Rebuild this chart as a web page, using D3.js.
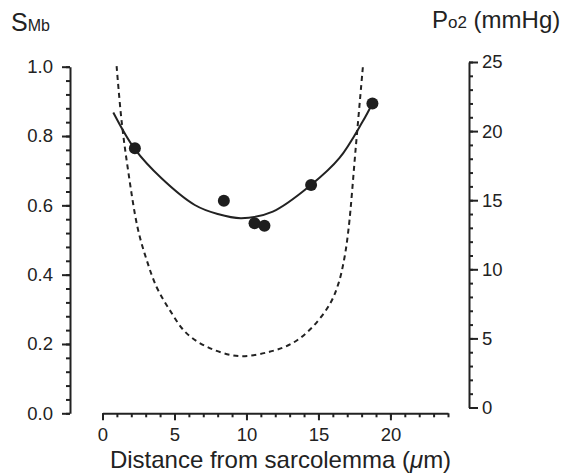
<!DOCTYPE html>
<html>
<head>
<meta charset="utf-8">
<script src="https://cdn.jsdelivr.net/npm/d3@7"></script>
<style>
  html, body { margin: 0; padding: 0; background: #ffffff; }
  svg { display: block; }
  text { font-family: "Liberation Sans", Arial, Helvetica, sans-serif; fill: #222; }
</style>
</head>
<body>
<script>
// ---- data ----
const xTickValues = [0, 5, 10, 15, 20];
const leftTickValues = [0.0, 0.2, 0.4, 0.6, 0.8, 1.0];
const rightTickValues = [0, 5, 10, 15, 20, 25];

// measured points: S_Mb vs distance
const dotX = [2.25, 8.43, 10.56, 11.25, 14.49, 18.75];
const dotS = [0.765, 0.613, 0.548, 0.541, 0.659, 0.894];

// fitted solid curve (S_Mb)
const fitX = [0.75, 2.25, 4.10, 6.41, 8.0, 9.64, 11.83, 14.49, 16.45, 18.06, 18.75];
const fitS = [0.868, 0.762, 0.678, 0.601, 0.575, 0.563, 0.582, 0.659, 0.736, 0.841, 0.894];

// dashed curve (Po2, mmHg)
const po2X = [0.98, 1.33, 1.79, 2.44, 3.06, 3.75, 4.67, 5.83, 7.44, 9.52, 11.6, 13.2, 14.6, 15.8, 16.4, 16.8, 17.1, 17.6, 18.1];
const po2Y = [24.7, 20.7, 17.07, 13.0, 10.7, 8.74, 7.05, 5.38, 4.30, 3.72, 4.03, 4.66, 5.84, 7.5, 9.0, 10.8, 13.0, 18.9, 24.8];

// ---- layout ----
const W = 579, H = 474;
const ink = "#222";
const svg = d3.select("body").append("svg").attr("width", W).attr("height", H);

const x = d3.scaleLinear().domain([0, 24]).range([102.5, 448]);
const yL = d3.scaleLinear().domain([0, 1]).range([413.3, 66.7]);
const yR = d3.scaleLinear().domain([0, 25]).range([407.5, 62]);

function styleAxis(g) {
  g.selectAll("path.domain").attr("stroke", ink).attr("stroke-width", 2);
  g.selectAll(".tick line").attr("stroke", ink).attr("stroke-width", 2);
  g.selectAll(".tick text").attr("fill", ink)
    .style("font-family", "'Liberation Sans', Arial, Helvetica, sans-serif")
    .style("font-size", "18.5px");
}

// left axis
const leftMinor = d3.range(0, 1.0001, 0.04);
svg.append("g").attr("transform", "translate(70,0)")
  .call(d3.axisLeft(yL).tickValues(leftMinor).tickSize(4).tickFormat(""))
  .call(g => { styleAxis(g); g.select(".domain").remove(); });
svg.append("g").attr("transform", "translate(70,0)")
  .call(d3.axisLeft(yL).tickValues(leftTickValues).tickSize(8).tickSizeOuter(0).tickPadding(9).tickFormat(d3.format(".1f")))
  .call(styleAxis);

// bottom axis
const xMinor = d3.range(0, 24.001, 1);
svg.append("g").attr("transform", "translate(0,413.3)")
  .call(d3.axisBottom(x).tickValues(xMinor).tickSize(4).tickFormat(""))
  .call(g => { styleAxis(g); g.select(".domain").remove(); });
svg.append("g").attr("transform", "translate(0,413.3)")
  .call(d3.axisBottom(x).tickValues(xTickValues).tickSize(7).tickSizeOuter(0).tickPadding(8).tickFormat(d3.format("d")))
  .call(styleAxis);

// right axis
const rMinor = d3.range(0, 25.001, 1);
svg.append("g").attr("transform", "translate(469,0)")
  .call(d3.axisRight(yR).tickValues(rMinor).tickSize(4).tickFormat(""))
  .call(g => { styleAxis(g); g.select(".domain").remove(); });
svg.append("g").attr("transform", "translate(469,0)")
  .call(d3.axisRight(yR).tickValues(rightTickValues).tickSize(9).tickSizeOuter(0).tickPadding(4).tickFormat(d3.format("d")))
  .call(styleAxis);

// dashed Po2 curve
const po2Data = po2X.map((v, i) => [v, po2Y[i]]);
svg.append("path")
  .datum(po2Data)
  .attr("fill", "none").attr("stroke", ink).attr("stroke-width", 2)
  .attr("stroke-dasharray", "5,4")
  .attr("d", d3.line().x(d => x(d[0])).y(d => yR(d[1])).curve(d3.curveCatmullRom.alpha(0.5)));

// solid fit curve
const fitData = fitX.map((v, i) => [v, fitS[i]]);
svg.append("path")
  .datum(fitData)
  .attr("fill", "none").attr("stroke", ink).attr("stroke-width", 2)
  .attr("d", d3.line().x(d => x(d[0])).y(d => yL(d[1])).curve(d3.curveCatmullRom.alpha(0.5)));

// dots
const dots = dotX.map((v, i) => [v, dotS[i]]);
svg.append("g").selectAll("circle").data(dots).join("circle")
  .attr("cx", d => x(d[0])).attr("cy", d => yL(d[1])).attr("r", 6)
  .attr("fill", "#1e1e1e");

// axis titles
const tL = svg.append("text").attr("x", 11).attr("y", 31);
tL.append("tspan").text("S").style("font-size", "25px");
tL.append("tspan").text("Mb").style("font-size", "16px");

const tR = svg.append("text").attr("x", 432).attr("y", 28);
tR.append("tspan").text("P").style("font-size", "24px");
tR.append("tspan").text("o2").style("font-size", "17px");
tR.append("tspan").text(" (mmHg)").style("font-size", "24px");

const tX = svg.append("text").attr("x", 280.5).attr("y", 468).attr("text-anchor", "middle").style("font-size", "24px");
tX.append("tspan").text("Distance from sarcolemma (");
tX.append("tspan").text("μ").style("font-style", "italic");
tX.append("tspan").text("m)");
</script>
</body>
</html>
